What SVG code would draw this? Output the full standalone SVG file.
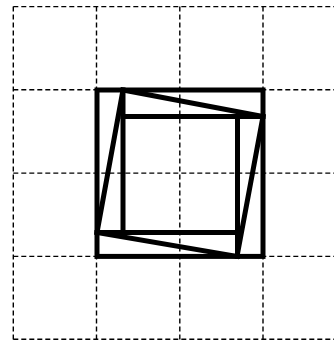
<svg xmlns="http://www.w3.org/2000/svg" width="334" height="341" viewBox="0 0 334 341">
<style>
.grid{stroke:#000;stroke-width:1.4;stroke-dasharray:5 3;fill:none}
.thick{stroke:#000;stroke-width:5;fill:none;stroke-linejoin:miter;stroke-linecap:square}
</style>
<rect width="334" height="341" fill="#fff"/>
<g id="grid" class="grid">
<line x1="13.3" y1="6.6" x2="13.3" y2="341"/>
<line x1="96.5" y1="6.6" x2="96.5" y2="341"/>
<line x1="179.8" y1="6.6" x2="179.8" y2="341"/>
<line x1="263" y1="6.6" x2="263" y2="341"/>
<line x1="13.3" y1="6.6" x2="334" y2="6.6"/>
<line x1="13.3" y1="89.8" x2="334" y2="89.8"/>
<line x1="13.3" y1="173.1" x2="334" y2="173.1"/>
<line x1="13.3" y1="256.4" x2="334" y2="256.4"/>
<line x1="13.3" y1="339.2" x2="334" y2="339.2"/>
</g>
<g id="outer-square">
<rect class="thick" x="97" y="90" width="166" height="166.4"/>
</g>
<g id="tilted-square">
<polygon class="thick" points="123,90 263,116.5 237,256.4 97,232.5"/>
</g>
<g id="connectors" class="thick">
<line x1="123" y1="90" x2="123" y2="232.5"/>
<line x1="263" y1="116.5" x2="123" y2="116.5"/>
<line x1="237.5" y1="256.4" x2="237.5" y2="116.5"/>
<line x1="97" y1="232.5" x2="237.5" y2="232.5"/>
</g>
</svg>
